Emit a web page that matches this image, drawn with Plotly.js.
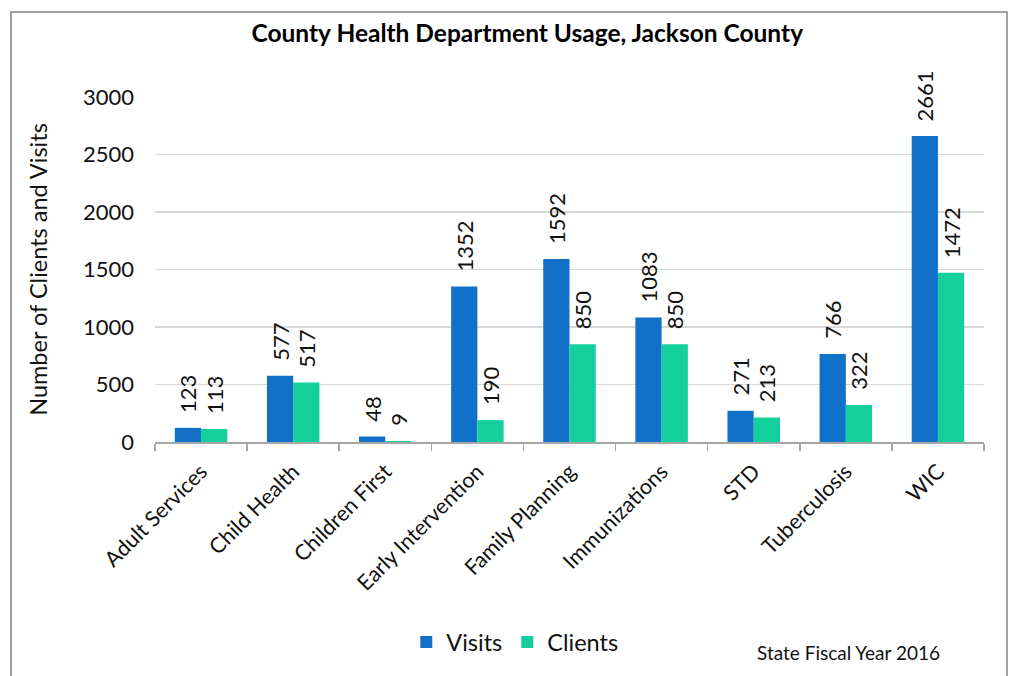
<!DOCTYPE html>
<html>
<head>
<meta charset="utf-8">
<script src="https://cdn.plot.ly/plotly-3.0.1.min.js"></script>
<style>
  html, body { margin: 0; padding: 0; background: #fff; }
  #chart { width: 1016px; height: 676px; }
</style>
</head>
<body>
<div id="chart"></div>
<script>
const categories = ["Adult Services", "Child Health", "Children First", "Early Intervention",
  "Family Planning", "Immunizations", "STD", "Tuberculosis", "WIC"];
const visits = [123, 577, 48, 1352, 1592, 1083, 271, 766, 2661];
const clients = [113, 517, 9, 190, 850, 850, 213, 322, 1472];
const yTicks = [0, 500, 1000, 1500, 2000, 2500, 3000];

const FONT = "Lato, 'Open Sans', sans-serif";
const BLUE = "#1170C8";
const GREEN = "#13CF9C";

const traces = [
  { type: "bar", name: "Visits", x: categories, y: visits,
    marker: { color: BLUE, line: { width: 0 } }, hoverinfo: "skip" },
  { type: "bar", name: "Clients", x: categories, y: clients,
    marker: { color: GREEN, line: { width: 0 } }, hoverinfo: "skip" }
];

const annotations = [];
const barShift = 13;
[visits, clients].forEach(function (series, s) {
  series.forEach(function (v, i) {
    annotations.push({
      x: categories[i], y: v, xref: "x", yref: "y",
      text: String(v), showarrow: false, textangle: -90,
      xanchor: "center", yanchor: "bottom",
      xshift: s === 0 ? -barShift : barShift, yshift: 13,
      font: { family: FONT, size: 22, color: "#111" }
    });
  });
});
annotations.push({
  text: "State Fiscal Year 2016", xref: "paper", yref: "paper",
  x: 0.836, y: -0.609, xanchor: "center", yanchor: "middle", showarrow: false,
  font: { family: FONT, size: 19, color: "#111" }
});

const layout = {
  width: 1016, height: 676,
  margin: { l: 155, r: 32, t: 97, b: 234 },
  paper_bgcolor: "#fff", plot_bgcolor: "#fff",
  font: { family: FONT, color: "#111" },
  title: {
    text: "<b>County Health Department Usage, Jackson County</b>",
    font: { family: FONT, size: 24.5, color: "#000" },
    xref: "container", yref: "container", x: 0.519, y: 0.951,
    xanchor: "center", yanchor: "middle"
  },
  barmode: "group", bargap: 0.43, bargroupgap: 0,
  xaxis: {
    type: "category", tickangle: -45, tickson: "boundaries",
    ticks: "outside", ticklen: 7, tickcolor: "#A6A6A6", tickwidth: 1.5,
    showline: true, linecolor: "#A6A6A6", linewidth: 1.5,
    showgrid: false, zeroline: false, ticklabelstandoff: 7,
    tickfont: { family: FONT, size: 21.5, color: "#111" }
  },
  yaxis: {
    range: [0, 3000], tickvals: yTicks, ticktext: yTicks.map(String),
    showgrid: true, gridcolor: "#D9D9D9", gridwidth: 1.5,
    zeroline: false, showline: false, ticks: "",
    ticklabelstandoff: 20,
    tickfont: { family: FONT, size: 22, color: "#111" },
    title: { text: "Number of Clients and Visits", standoff: 28,
      font: { family: FONT, size: 23.5, color: "#111" } }
  },
  showlegend: true,
  legend: {
    orientation: "h", x: 0.434, y: -0.58, xanchor: "center", yanchor: "middle",
    font: { family: FONT, size: 23.5, color: "#111" },
    traceorder: "normal", itemclick: false
  },
  annotations: annotations,
  shapes: [{
    type: "rect", xref: "paper", yref: "paper",
    x0: -0.1737, x1: 1.0277, y0: -0.75, y1: 1.2464,
    line: { color: "#A0A0A0", width: 2 }, fillcolor: "rgba(0,0,0,0)", layer: "below"
  }]
};

Plotly.newPlot("chart", traces, layout, { staticPlot: true, displayModeBar: false });
</script>
</body>
</html>
